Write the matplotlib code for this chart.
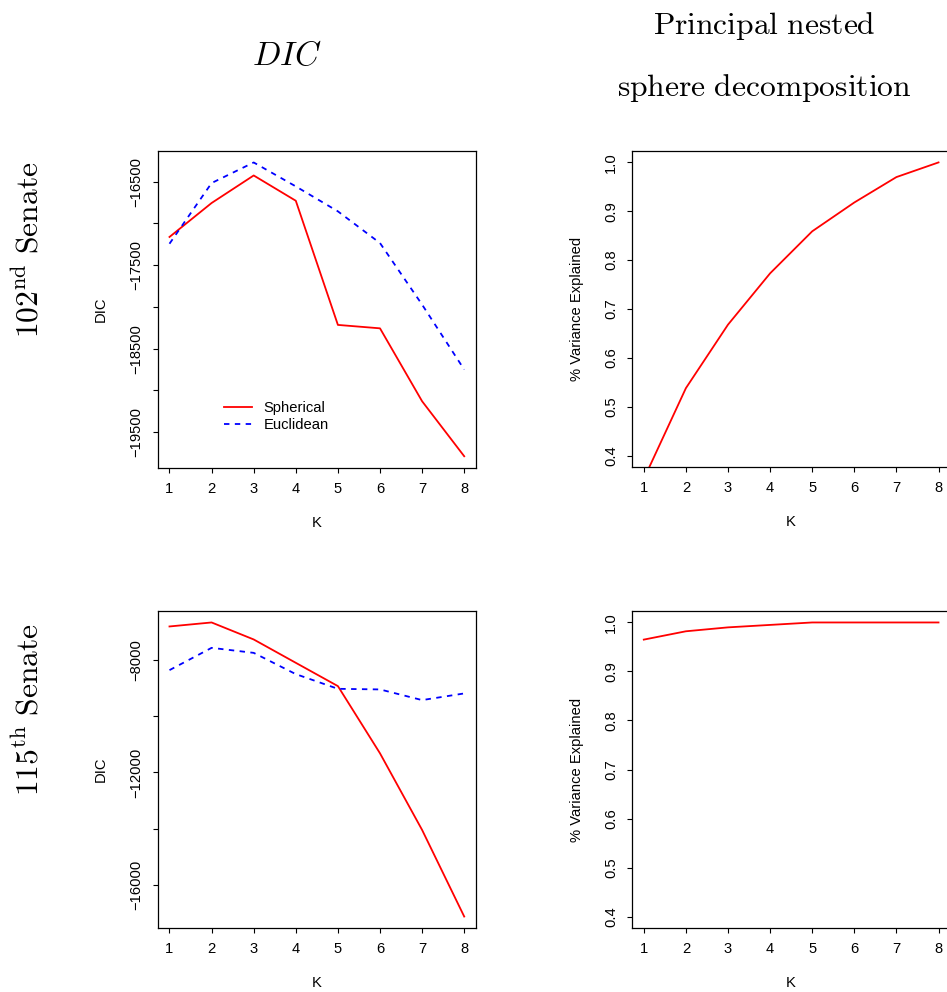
import matplotlib
matplotlib.use("Agg")
import matplotlib.pyplot as plt
import numpy as np

plt.rcParams["font.family"] = ["Liberation Sans", "DejaVu Sans"]
plt.rcParams["mathtext.fontset"] = "cm"

K = [1, 2, 3, 4, 5, 6, 7, 8]

# 102nd Senate
dic102_spherical = [-17162, -16755, -16425, -16728, -18216, -18257, -19131, -19790]
dic102_euclidean = [-17243, -16516, -16269, -16556, -16855, -17235, -17973, -18751]
pns102_variance = [0.352, 0.538, 0.668, 0.773, 0.859, 0.918, 0.970, 1.000]

# 115th Senate
dic115_spherical = [-6814, -6672, -7276, -8106, -8934, -11323, -14046, -17123]
dic115_euclidean = [-8366, -7574, -7752, -8508, -9030, -9052, -9431, -9194]
pns115_variance = [0.965, 0.982, 0.990, 0.995, 1.000, 1.000, 1.000, 1.000]

dic102_ticks = [-16500, -17500, -18500, -19500]
dic102_minor = [-17000, -18000, -19000]
dic115_ticks = [-8000, -12000, -16000]
dic115_minor = [-10000, -14000]
var_ticks = [0.4, 0.5, 0.6, 0.7, 0.8, 0.9, 1.0]

W, H = 947, 992
fig = plt.figure(figsize=(W / 100, H / 100), dpi=100)


def box(x0, y0, x1, y1):
    return [x0 / W, 1 - y1 / H, (x1 - x0) / W, (y1 - y0) / H]


FS = 10.6
RED = "#FF0000"
BLUE = "#0000FF"


def r_range(vals):
    lo, hi = min(vals), max(vals)
    d = 0.04 * (hi - lo)
    return lo - d, hi + d


def style(ax, yticks, yminor=None):
    ax.set_xlim(0.72, 8.28)
    ax.set_xticks(K)
    ax.set_xticklabels([str(k) for k in K])
    ticks = list(yticks) + list(yminor or [])
    ax.set_yticks(ticks)
    labels = []
    for t in ticks:
        if t in yticks:
            if isinstance(t, float):
                labels.append(f"{t:.1f}")
            else:
                labels.append(f"\u2212{abs(t)}" if t < 0 else str(t))
        else:
            labels.append("")
    ax.set_yticklabels(labels)
    ax.tick_params(axis="both", direction="out", length=3.6, width=0.8,
                   labelsize=FS, color="black")
    ax.tick_params(axis="x", pad=6.5)
    ax.tick_params(axis="y", pad=6.5)
    for lab in ax.get_yticklabels():
        lab.set_rotation(90)
        lab.set_va("center")
    for s in ax.spines.values():
        s.set_linewidth(0.9)
        s.set_color("black")
    ax.set_xlabel("K", fontsize=FS, labelpad=14.5)


LW = 1.3

# top-left: DIC, 102nd Senate
ax1 = fig.add_axes(box(157.7, 150.7, 476, 468))
ax1.plot(K, dic102_spherical, color=RED, lw=LW, label="Spherical")
ax1.plot(K, dic102_euclidean, color=BLUE, lw=LW, dashes=(3, 3), label="Euclidean")
ax1.set_ylim(*r_range(dic102_spherical + dic102_euclidean))
style(ax1, dic102_ticks, dic102_minor)
ax1.set_ylabel("DIC", fontsize=FS, labelpad=15.5)
ax1.legend(loc="upper left", bbox_to_anchor=(0.185, 0.235), frameon=False,
           fontsize=FS, handlelength=1.9, handletextpad=0.8, labelspacing=0.2,
           borderpad=0)

# top-right: variance explained, 102nd Senate
ax2 = fig.add_axes(box(632, 150.7, 950.3, 467.3))
ax2.plot(K, pns102_variance, color=RED, lw=LW)
ax2.set_ylim(0.376, 1.024)
style(ax2, var_ticks)
ax2.set_ylabel("% Variance Explained", fontsize=FS, labelpad=14.5)

# bottom-left: DIC, 115th Senate
ax3 = fig.add_axes(box(157.7, 610.7, 476, 928.3))
ax3.plot(K, dic115_spherical, color=RED, lw=LW)
ax3.plot(K, dic115_euclidean, color=BLUE, lw=LW, dashes=(3, 3))
ax3.set_ylim(*r_range(dic115_spherical + dic115_euclidean))
style(ax3, dic115_ticks, dic115_minor)
ax3.set_ylabel("DIC", fontsize=FS, labelpad=15.5)

# bottom-right: variance explained, 115th Senate
ax4 = fig.add_axes(box(632, 610.7, 950.3, 928.3))
ax4.plot(K, pns115_variance, color=RED, lw=LW)
ax4.set_ylim(0.376, 1.024)
style(ax4, var_ticks)
ax4.set_ylabel("% Variance Explained", fontsize=FS, labelpad=14.5)

# column headings
TS = 22.7
fig.text(287 / W, 1 - 56 / H, r"$DIC$", fontsize=24, ha="center", va="center")
fig.text(764 / W, 1 - 26 / H, r"$\mathrm{Principal\ nested}$", fontsize=TS,
         ha="center", va="center")
fig.text(764 / W, 1 - 88 / H, r"$\mathrm{sphere\ decomposition}$", fontsize=TS,
         ha="center", va="center")

# row headings
fig.text(30 / W, 1 - 250 / H, r"$102^{\mathrm{nd}}\ \mathrm{Senate}$", fontsize=TS,
         rotation=90, ha="center", va="center")
fig.text(30 / W, 1 - 710 / H, r"$115^{\mathrm{th}}\ \mathrm{Senate}$", fontsize=TS,
         rotation=90, ha="center", va="center")

fig.savefig("out.png", dpi=100)
